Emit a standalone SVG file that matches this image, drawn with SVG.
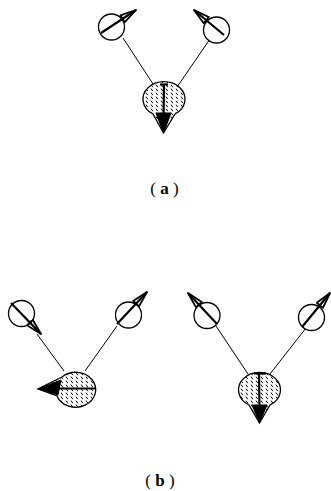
<svg xmlns="http://www.w3.org/2000/svg" width="331" height="491" viewBox="0 0 331 491">
<style>
.small{fill:#fff;stroke:#000;stroke-width:1.3}
.big{fill:url(#hatch);stroke:#000;stroke-width:1.3}
.shaft{stroke:#000;stroke-width:2.2;fill:none}
.conn{stroke:#000;stroke-width:1;fill:none}
.cone{fill:#000;stroke:#000;stroke-width:1;stroke-linejoin:round}
.lbl{font-family:"Liberation Serif",serif;font-size:17px;fill:#000}
</style>
<defs>
<pattern id="hatch" patternUnits="userSpaceOnUse" width="5" height="4">
<rect width="5" height="4" fill="#fff"/>
<line x1="1" y1="0.6" x2="2.8" y2="3.2" stroke="#000" stroke-width="1"/>
</pattern>
<marker id="ah" viewBox="0 0 18 10" refX="17" refY="5" markerWidth="18" markerHeight="10" markerUnits="userSpaceOnUse" orient="auto">
<path d="M1,1 L17,5 L1,9 z" fill="none" stroke="#000" stroke-width="1.8" stroke-linejoin="round"/>
</marker>
</defs>
<g id="connectors">
<line class="conn" x1="123" y1="38" x2="155" y2="87"/>
<line class="conn" x1="210" y1="39" x2="177" y2="87"/>
<line class="conn" x1="37" y1="334" x2="64" y2="371"/>
<line class="conn" x1="117" y1="326" x2="85" y2="371"/>
<line class="conn" x1="216" y1="326" x2="248" y2="374"/>
<line class="conn" x1="306" y1="328" x2="270" y2="374"/>
</g>
<g id="a-left">
<circle class="small" cx="111.5" cy="27" r="13"/>
<line class="shaft" x1="101" y1="33" x2="136" y2="10" marker-end="url(#ah)"/>
</g>
<g id="a-right">
<circle class="small" cx="216.5" cy="30" r="13"/>
<line class="shaft" x1="224" y1="35" x2="194" y2="10" marker-end="url(#ah)"/>
</g>
<g id="a-center">
<path class="big" d="M153,114 A21,17.5 0 1 1 175,114 L163.5,133 z"/>
<path class="cone" d="M156,113 L171,113 L163.5,133 z"/>
<line class="shaft" x1="164" y1="84" x2="163.5" y2="120"/>
<line class="shaft" x1="160" y1="84.5" x2="168" y2="84.5" stroke-width="1.5"/>
</g>
<g id="b1-left">
<circle class="small" cx="21.5" cy="313.5" r="13"/>
<line class="shaft" x1="11" y1="303" x2="41" y2="334" marker-end="url(#ah)"/>
</g>
<g id="b1-right">
<circle class="small" cx="128.5" cy="315" r="13"/>
<line class="shaft" x1="117" y1="324" x2="147" y2="292" marker-end="url(#ah)"/>
</g>
<g id="b1-center">
<path class="big" d="M62,377 A20,17.5 0 1 1 57,396 L38,389 z"/>
<path class="cone" d="M61,380 L58,395 L38,389 z"/>
<line class="shaft" x1="96" y1="388.5" x2="48" y2="388.5"/>
</g>
<g id="b2-left">
<circle class="small" cx="207" cy="315.5" r="13"/>
<line class="shaft" x1="217" y1="324" x2="188" y2="293" marker-end="url(#ah)"/>
</g>
<g id="b2-right">
<circle class="small" cx="311.5" cy="317.5" r="13"/>
<line class="shaft" x1="302" y1="327" x2="330" y2="293" marker-end="url(#ah)"/>
</g>
<g id="b2-center">
<path class="big" d="M249,405 A21,17.5 0 1 1 270,405 L259.5,423 z"/>
<path class="cone" d="M252,405 L267,405 L259.5,423 z"/>
<line class="shaft" x1="259" y1="373" x2="259.5" y2="410"/>
<line class="shaft" x1="254" y1="373.5" x2="266" y2="373.5" stroke-width="1.5"/>
</g>
<text class="lbl" x="164.5" y="194" text-anchor="middle">( <tspan font-weight="bold">a</tspan> )</text>
<text class="lbl" x="160" y="486" text-anchor="middle">( <tspan font-weight="bold">b</tspan> )</text>
</svg>
